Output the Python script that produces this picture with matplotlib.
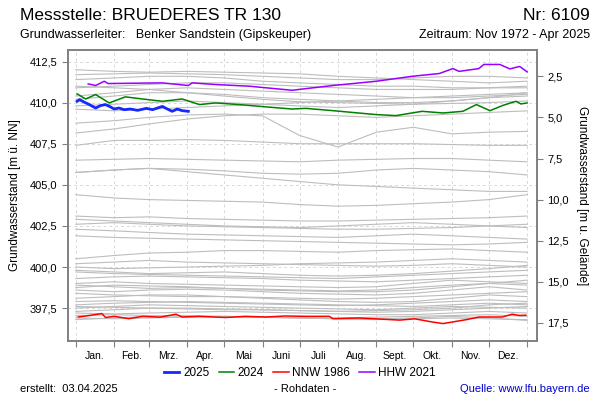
import matplotlib
matplotlib.use("Agg")
import matplotlib.pyplot as plt

plt.rcParams['font.family'] = ['Liberation Sans', 'DejaVu Sans']

# month layout (day of year)
month_starts = [0, 31, 59, 90, 120, 151, 181, 212, 243, 273, 304, 334, 365]
month_labels = ['Jan.', 'Feb.', 'Mrz.', 'Apr.', 'Mai', 'Juni', 'Juli', 'Aug.',
                'Sept.', 'Okt.', 'Nov.', 'Dez.']

ground_level = 414.1

# earlier years, monthly values (m ü. NN)
gray_years = [
    [412.0, 411.9, 411.85, 411.9, 411.85, 411.8, 411.75, 411.6, 411.5, 411.4, 411.3, 411.2, 411.3],
    [411.7, 411.75, 411.8, 411.75, 411.7, 411.6, 411.5, 411.4, 411.4, 411.5, 411.6, 411.6, 411.5],
    [411.4, 411.5, 411.6, 411.6, 411.5, 411.3, 411.2, 411.1, 411.0, 411.0, 410.9, 410.9, 410.9],
    [410.9, 411.0, 411.1, 411.2, 411.2, 411.1, 411.0, 410.9, 410.8, 410.8, 410.8, 410.9, 411.0],
    [410.4, 410.6, 410.8, 410.9, 410.8, 410.7, 410.6, 410.5, 410.4, 410.3, 410.3, 410.4, 410.5],
    [410.2, 410.4, 410.6, 410.6, 410.5, 410.3, 410.2, 410.1, 410.0, 410.0, 410.1, 410.3, 410.6],
    [411.0, 410.9, 410.8, 410.6, 410.4, 410.2, 410.05, 410.0, 409.95, 409.9, 409.95, 410.0, 410.1],
    [409.8, 409.9, 410.0, 410.1, 410.0, 409.9, 409.8, 409.7, 409.8, 409.9, 410.1, 410.3, 410.4],
    [409.6, 409.5, 409.6, 409.7, 409.8, 409.9, 410.0, 410.1, 410.2, 410.3, 410.4, 410.5, 410.6],
    [408.15, 408.4, 408.7, 409.0, 409.2, 409.3, 409.3, 409.2, 409.1, 409.2, 409.3, 409.4, 409.5],
    [408.75, 408.9, 409.1, 409.25, 409.3, 409.2, 408.0, 407.3, 408.2, 408.5, 408.1, 408.2, 408.25],
    [407.4, 407.7, 407.7, 407.75, 407.7, 407.6, 407.5, 407.5, 407.5, 407.5, 407.45, 407.4, 407.4],
    [406.5, 406.55, 406.6, 406.55, 406.5, 406.45, 406.4, 406.5, 406.55, 406.6, 406.6, 406.5, 406.4],
    [405.75, 405.9, 406.0, 405.95, 405.85, 405.7, 405.65, 405.7, 405.9, 406.0, 405.9, 405.8, 405.6],
    [405.75, 405.9, 406.0, 405.8, 405.6, 405.4, 405.2, 405.0, 404.9, 404.8, 404.7, 404.6, 404.6],
    [404.4, 404.2, 404.1, 404.05, 404.0, 403.95, 403.8, 403.7, 403.75, 403.85, 403.95, 404.1, 404.4],
    [403.1, 403.0, 403.05, 402.95, 402.9, 402.85, 402.8, 402.8, 402.85, 402.9, 402.95, 403.0, 403.1],
    [402.9, 402.8, 402.7, 402.6, 402.5, 402.45, 402.4, 402.5, 402.6, 402.7, 402.6, 402.5, 402.4],
    [402.6, 402.7, 402.6, 402.5, 402.45, 402.4, 402.35, 402.3, 402.3, 402.35, 402.4, 402.5, 402.6],
    [402.3, 402.2, 402.1, 402.0, 401.95, 401.9, 401.85, 401.8, 401.9, 402.0, 401.9, 401.8, 401.7],
    [401.9, 401.8, 401.75, 401.7, 401.65, 401.6, 401.55, 401.5, 401.45, 401.4, 401.35, 401.4, 401.5],
    [400.5, 400.7, 400.85, 400.9, 401.0, 401.0, 400.95, 400.9, 401.0, 401.05, 401.1, 401.0, 400.9],
    [400.2, 400.3, 400.4, 400.3, 400.25, 400.2, 400.15, 400.1, 400.05, 400.1, 400.2, 400.1, 400.0],
    [400.0, 399.9, 399.95, 400.0, 400.05, 400.1, 400.2, 400.25, 400.3, 400.4, 400.5, 400.4, 400.3],
    [399.8, 399.7, 399.6, 399.65, 399.7, 399.6, 399.5, 399.45, 399.5, 399.6, 399.75, 399.9, 400.1],
    [399.7, 399.6, 399.55, 399.5, 399.45, 399.4, 399.35, 399.3, 399.4, 399.5, 399.6, 399.7, 399.8],
    [399.3, 399.4, 399.45, 399.4, 399.35, 399.3, 399.2, 399.15, 399.1, 399.2, 399.3, 399.4, 399.5],
    [399.0, 399.1, 399.0, 398.95, 398.9, 398.85, 398.8, 398.75, 398.8, 399.0, 399.2, 399.1, 399.0],
    [398.9, 398.8, 398.7, 398.75, 398.7, 398.65, 398.6, 398.55, 398.6, 398.75, 398.9, 399.0, 398.9],
    [398.75, 398.9, 398.85, 398.8, 398.7, 398.6, 398.55, 398.5, 398.5, 398.6, 398.8, 399.0, 399.2],
    [398.6, 398.5, 398.6, 398.65, 398.6, 398.5, 398.4, 398.35, 398.3, 398.4, 398.6, 398.8, 398.6],
    [398.4, 398.3, 398.25, 398.2, 398.2, 398.15, 398.1, 398.05, 398.1, 398.2, 398.3, 398.4, 398.5],
    [398.1, 398.2, 398.3, 398.3, 398.2, 398.1, 398.0, 397.9, 397.85, 397.9, 398.1, 398.3, 398.2],
    [397.9, 397.95, 397.9, 397.85, 397.8, 397.75, 397.7, 397.65, 397.7, 397.8, 397.9, 398.0, 397.9],
    [397.7, 397.8, 397.85, 397.9, 397.85, 397.8, 397.75, 397.7, 397.65, 397.6, 397.7, 397.8, 397.7],
    [397.6, 397.55, 397.5, 397.45, 397.4, 397.4, 397.35, 397.3, 397.35, 397.4, 397.5, 397.7, 397.8],
    [397.5, 397.6, 397.7, 397.65, 397.6, 397.55, 397.5, 397.45, 397.4, 397.5, 397.6, 397.55, 397.5],
    [397.3, 397.4, 397.5, 397.5, 397.45, 397.4, 397.35, 397.3, 397.25, 397.3, 397.4, 397.5, 397.6],
    [397.2, 397.15, 397.2, 397.25, 397.3, 397.25, 397.2, 397.15, 397.1, 397.1, 397.2, 397.3, 397.2],
    [397.05, 397.1, 397.05, 397.0, 396.95, 396.95, 396.9, 396.9, 396.95, 397.0, 397.05, 397.1, 397.0],
    [396.9, 396.85, 396.9, 396.95, 397.0, 396.95, 396.9, 396.85, 396.8, 396.85, 396.9, 396.85, 396.8],
    [396.8, 396.9, 397.0, 397.05, 397.0, 396.95, 396.9, 396.85, 396.85, 396.9, 397.0, 396.9, 396.75],
]

# highlighted years (day of year, level)
days_2025 = [1, 3, 7, 11, 16, 20, 24, 28, 31, 35, 39, 44, 50, 57, 62, 70, 74, 78, 82, 86, 91]
level_2025 = [410.08, 410.18, 410.02, 409.88, 409.67, 409.82, 409.88, 409.74, 409.61, 409.67, 409.57,
              409.61, 409.53, 409.65, 409.57, 409.77, 409.61, 409.47, 409.61, 409.51, 409.47]

days_2024 = [1, 8, 16, 27, 40, 54, 70, 86, 100, 113, 132, 154, 175, 186, 208, 243, 259, 280, 297,
             313, 324, 335, 345, 356, 360, 365]
level_2024 = [410.53, 410.22, 410.49, 409.98, 410.35, 410.22, 410.08, 410.22, 409.88, 409.98, 409.88,
              409.74, 409.61, 409.65, 409.51, 409.27, 409.21, 409.47, 409.37, 409.47, 409.88, 409.51,
              409.82, 410.08, 409.92, 409.98]

days_1986 = [2, 11, 21, 24, 31, 43, 54, 68, 81, 86, 100, 121, 137, 154, 169, 186, 205, 208, 229,
             262, 274, 288, 297, 316, 326, 345, 353, 359, 364]
level_1986 = [396.96, 397.05, 397.17, 396.93, 397.0, 396.86, 397.0, 396.95, 397.13, 396.96, 397.0,
              396.93, 397.0, 396.96, 397.02, 397.0, 397.0, 396.86, 396.9, 396.77, 396.85, 396.66,
              396.56, 396.8, 396.96, 396.96, 397.13, 397.05, 397.07]

days_2021 = [10, 16, 23, 26, 70, 91, 94, 113, 140, 175, 186, 208, 243, 272, 294, 305, 310, 326,
             330, 343, 351, 359, 365]
level_2021 = [411.14, 411.04, 411.3, 411.16, 411.2, 411.04, 411.2, 411.1, 411.0, 410.75, 410.85,
              411.04, 411.3, 411.6, 411.77, 412.07, 411.9, 412.07, 412.32, 412.32, 412.05, 412.2, 411.87]

left_ticks = [397.5, 400.0, 402.5, 405.0, 407.5, 410.0, 412.5]
right_ticks = [2.5, 5.0, 7.5, 10.0, 12.5, 15.0, 17.5]


def comma(v):
    return f"{v:.1f}".replace('.', ',')


fig = plt.figure(figsize=(6, 4), dpi=100)
ax = fig.add_axes([0.113, 0.1475, 0.782, 0.7275])

for vals in gray_years:
    ax.plot(month_starts, vals, color='#bdbdbd', lw=0.8, zorder=2)

ax.plot(days_1986, level_1986, color='#ff0000', lw=1.1, zorder=4, label='NNW 1986')
ax.plot(days_2021, level_2021, color='#9a00ff', lw=1.1, zorder=4, label='HHW 2021')
ax.plot(days_2024, level_2024, color='#008000', lw=1.1, zorder=4, label='2024')
ax.plot(days_2025, level_2025, color='#1428ff', lw=2.0, zorder=5, label='2025')

ax.set_xlim(-6.5, 373)
ax.set_ylim(395.5, 413.2)

ax.set_yticks(left_ticks)
ax.set_yticklabels([comma(v) for v in left_ticks], fontsize=8)
ax.set_xticks(month_starts)
ax.set_xticklabels([])
mids = [(a + b) / 2 for a, b in zip(month_starts[:-1], month_starts[1:])]
ax.set_xticks(mids, minor=True)
ax.set_xticklabels(month_labels, minor=True, fontsize=7.5)
ax.tick_params(axis='x', which='minor', length=0, pad=7)
ax.tick_params(axis='x', which='major', length=4, color='#808080')
ax.tick_params(axis='y', length=4, color='#808080')
ax.grid(True, which='major', color='#d8d8d8', ls=(0, (3, 3)), lw=0.7)

for sp in ax.spines.values():
    sp.set_color('#808080')
    sp.set_linewidth(1.2)

ax.set_ylabel('Grundwasserstand [m ü. NN]', fontsize=8.5, labelpad=6)

ax2 = ax.twinx()
ax2.set_ylim(ground_level - 395.5, ground_level - 413.2)
ax2.set_yticks(right_ticks)
ax2.set_yticklabels([comma(v) for v in right_ticks], fontsize=8)
ax2.tick_params(axis='y', length=4, color='#808080')
for sp in ax2.spines.values():
    sp.set_color('#808080')
    sp.set_linewidth(1.2)
ax2.set_ylabel('Grundwasserstand [m u. Gelände]', fontsize=8.5, rotation=270, labelpad=14)

handles, labels = ax.get_legend_handles_labels()
order = [3, 2, 0, 1]
fig.legend([handles[i] for i in order], [labels[i] for i in order], loc='center',
           bbox_to_anchor=(0.5, 0.068), ncol=4, frameon=False, fontsize=8.5,
           handlelength=1.3, handletextpad=0.3, columnspacing=0.8)

fig.text(0.033, 0.962, 'Messstelle: BRUEDERES TR 130', fontsize=12.5, ha='left', va='center')
fig.text(0.983, 0.962, 'Nr: 6109', fontsize=12.5, ha='right', va='center')
fig.text(0.033, 0.912, 'Grundwasserleiter:   Benker Sandstein (Gipskeuper)', fontsize=9,
         ha='left', va='center')
fig.text(0.983, 0.912, 'Zeitraum: Nov 1972 - Apr 2025', fontsize=9, ha='right', va='center')
fig.text(0.033, 0.028, 'erstellt:  03.04.2025', fontsize=8, ha='left', va='center')
fig.text(0.508, 0.028, '- Rohdaten -', fontsize=8, ha='center', va='center')
fig.text(0.983, 0.028, 'Quelle: www.lfu.bayern.de', fontsize=8, ha='right', va='center',
         color='#0000cc')

fig.savefig('out.png', dpi=100)
